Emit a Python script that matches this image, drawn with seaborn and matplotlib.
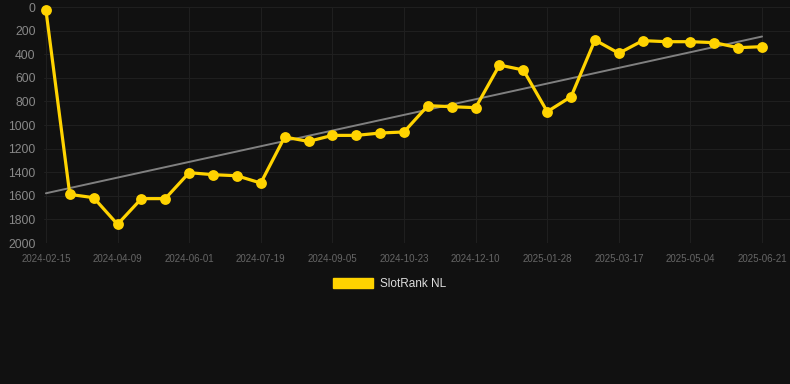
import numpy as np
import pandas as pd
import matplotlib
matplotlib.use("Agg")
import matplotlib.pyplot as plt
import matplotlib.patches as mpatches
import seaborn as sns

# ranking per snapshot (lower is better)
ranks = [25, 1588, 1616, 1842, 1624, 1624, 1404, 1421, 1430, 1492,
         1102, 1139, 1088, 1088, 1068, 1059, 836, 845, 853, 492,
         534, 887, 760, 280, 392, 285, 294, 294, 302, 345, 336]

tick_labels = ["2024-02-15", "2024-04-09", "2024-06-01", "2024-07-19",
               "2024-09-05", "2024-10-23", "2024-12-10", "2025-01-28",
               "2025-03-17", "2025-05-04", "2025-06-21"]

y_ticks = [0, 200, 400, 600, 800, 1000, 1200, 1400, 1600, 1800, 2000]

bg = "#111111"
yellow = "#FFD300"

df = pd.DataFrame({"idx": np.arange(len(ranks)), "rank": ranks})

# linear trend over the series
k, b = np.polyfit(df["idx"], df["rank"], 1)
df["trend"] = k * df["idx"] + b

sns.set_theme(style="dark")
plt.rcParams["font.family"] = ["Liberation Sans", "DejaVu Sans"]

fig = plt.figure(figsize=(7.9, 3.84), dpi=100, facecolor=bg)
ax = fig.add_axes([44 / 790, (384 - 243) / 384, 746 / 790, 236 / 384])
ax.set_facecolor(bg)

sns.lineplot(data=df, x="idx", y="trend", ax=ax, color="#808080", linewidth=1.4)
sns.lineplot(data=df, x="idx", y="rank", ax=ax, color=yellow, linewidth=2.3,
             marker="o", markersize=7.8, markeredgewidth=0, clip_on=False)

ax.set_xlim(-0.08, 31.17)
ax.set_ylim(2000, 0)
ax.set_xticks(np.arange(0, len(ranks), 3))
ax.set_xticklabels(tick_labels)
ax.set_yticks(y_ticks)
ax.set_xlabel("")
ax.set_ylabel("")

ax.grid(True, color="#1f1f1f", linewidth=0.8)
for s in ax.spines.values():
    s.set_visible(False)
ax.tick_params(axis="x", colors="#666666", labelsize=7, length=0, pad=8)
ax.tick_params(axis="y", colors="#888888", labelsize=8.7, length=0, pad=6)

handle = mpatches.Patch(color=yellow, label="SlotRank NL")
leg = fig.legend(handles=[handle], loc="center", bbox_to_anchor=(389.5 / 790, 1 - 284 / 384),
                 frameon=False, handlelength=3.4, handleheight=1.0, handletextpad=0.6,
                 fontsize=8.5, borderpad=0)
for t in leg.get_texts():
    t.set_color("#dddddd")

fig.savefig("out.png", dpi=100, facecolor=bg)
